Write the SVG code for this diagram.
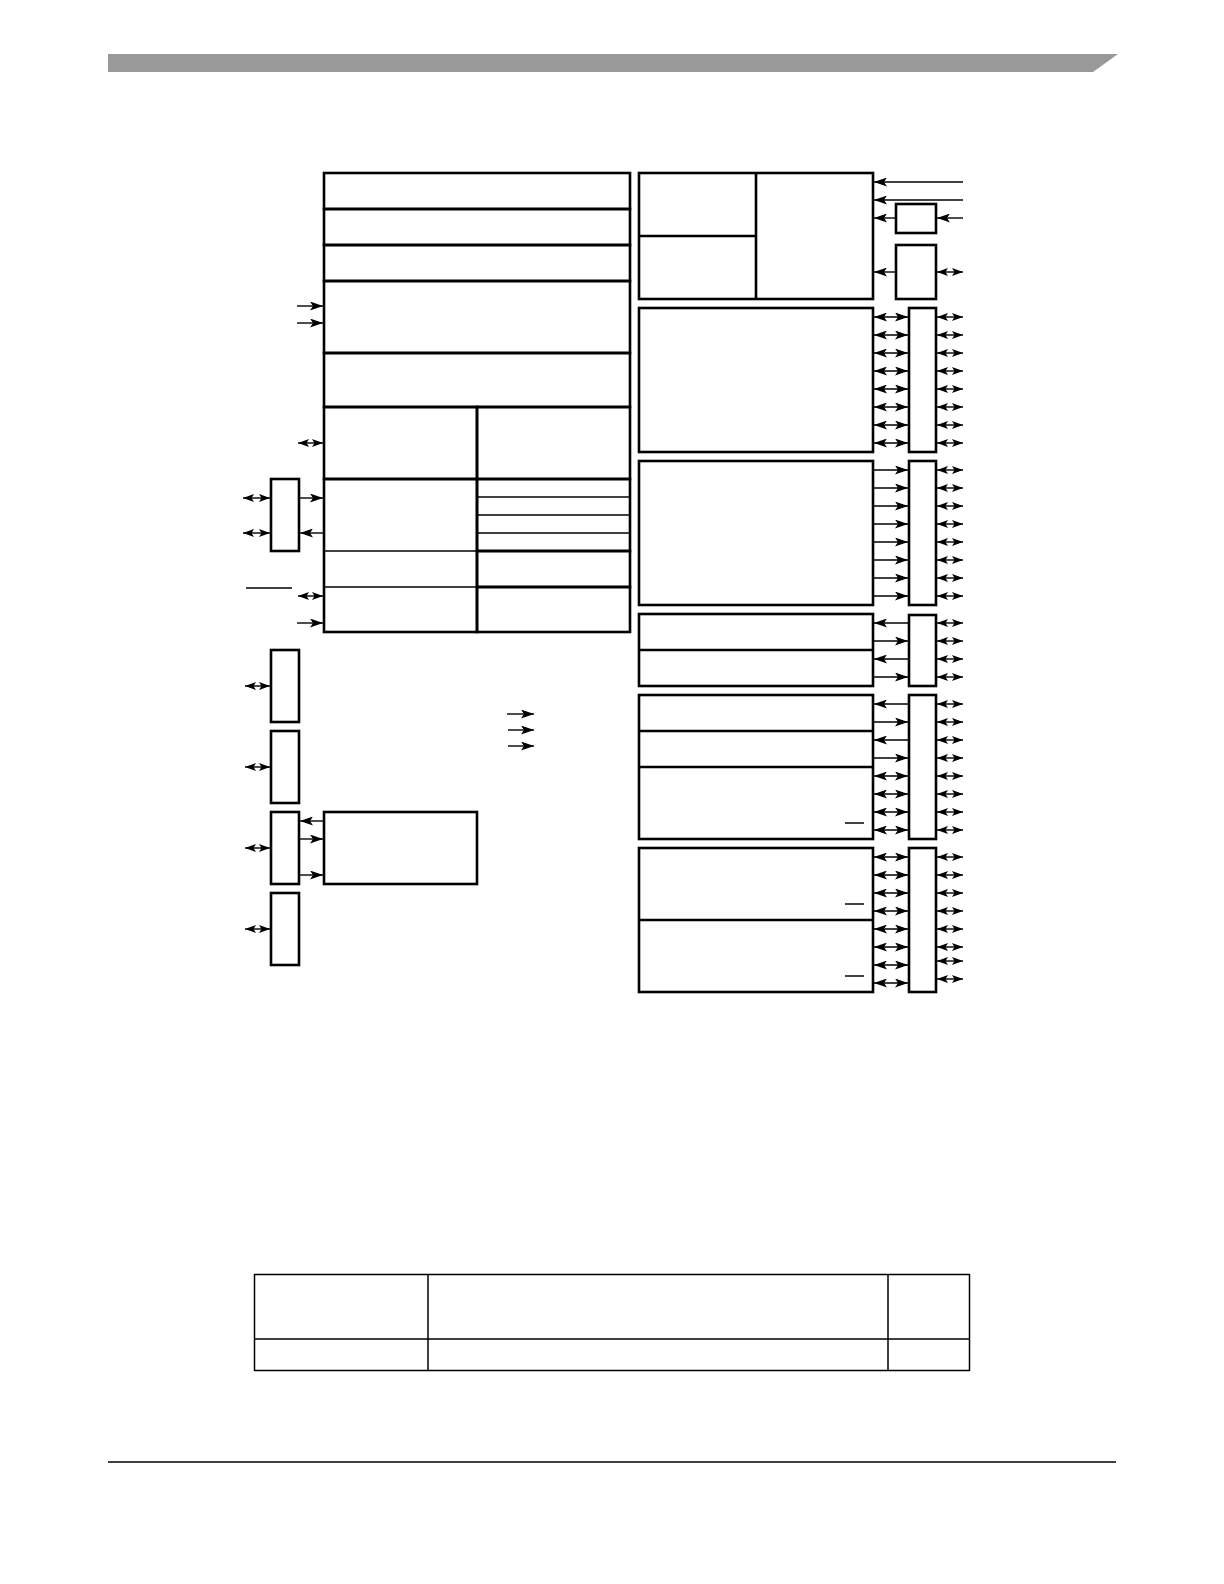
<svg xmlns="http://www.w3.org/2000/svg" width="1224" height="1584" viewBox="0 0 1224 1584">
<style>
.k{fill:none;stroke:#000;stroke-width:2.6}
.t{fill:none;stroke:#000;stroke-width:1.5}
.c line{stroke:#000;stroke-width:1.4}
.r{marker-end:url(#a)}
.b{marker-start:url(#a);marker-end:url(#a)}
.bs{marker-start:url(#s);marker-end:url(#s)}
</style>
<defs>
<marker id="a" viewBox="0 0 13 9" refX="13" refY="4.5" markerWidth="13" markerHeight="9" markerUnits="userSpaceOnUse" orient="auto-start-reverse"><path d="M0,0 L13,4.5 L0,9 L3,4.5 z" fill="#000"/></marker>
<marker id="s" viewBox="0 0 11 8" refX="11" refY="4" markerWidth="11" markerHeight="8" markerUnits="userSpaceOnUse" orient="auto-start-reverse"><path d="M0,0 L11,4 L0,8 L2.5,4 z" fill="#000"/></marker>
</defs>
<rect width="1224" height="1584" fill="#fff"/>
<g id="header-bar"><polygon points="108,54 1118,54 1093,72 108,72" fill="#999"/></g>
<g id="footer-rule"><line x1="108" y1="1462" x2="1116" y2="1462" stroke="#000" stroke-width="1.5"/></g>

<g id="main-block">
<g id="m1"><rect class="k" x="324" y="173" width="306" height="36"/></g>
<g id="m2"><rect class="k" x="324" y="209" width="306" height="36"/></g>
<g id="m3"><rect class="k" x="324" y="245" width="306" height="36"/></g>
<g id="m4"><rect class="k" x="324" y="281" width="306" height="72"/></g>
<g id="m5"><rect class="k" x="324" y="353" width="306" height="54"/></g>
<g id="m6a"><rect class="k" x="324" y="407" width="153" height="72"/></g>
<g id="m6b"><rect class="k" x="477" y="407" width="153" height="72"/></g>
<g id="m7a"><rect class="k" x="324" y="479" width="153" height="153"/><line class="t" x1="324" y1="551" x2="477" y2="551"/><line class="t" x1="324" y1="587" x2="477" y2="587"/></g>
<g id="m7b"><rect class="k" x="477" y="479" width="153" height="72"/><line class="t" x1="477" y1="497" x2="630" y2="497"/><line class="t" x1="477" y1="515" x2="630" y2="515"/><line class="t" x1="477" y1="533" x2="630" y2="533"/></g>
<g id="m8b"><rect class="k" x="477" y="551" width="153" height="36"/></g>
<g id="m9b"><rect class="k" x="477" y="587" width="153" height="45"/></g>
</g>

<g id="lbox1"><rect class="k" x="271" y="479" width="28" height="72"/></g>
<g id="lbox2"><rect class="k" x="271" y="650" width="28" height="72"/></g>
<g id="lbox3"><rect class="k" x="271" y="731" width="28" height="72"/></g>
<g id="lbox4"><rect class="k" x="271" y="812" width="28" height="72"/></g>
<g id="lbox5"><rect class="k" x="271" y="893" width="28" height="72"/></g>
<g id="sub-block"><rect class="k" x="324" y="812" width="153" height="72"/></g>

<g id="blockA"><rect class="k" x="639" y="173" width="234" height="126"/><line class="k" x1="756" y1="173" x2="756" y2="299"/><line class="k" x1="639" y1="236" x2="756" y2="236"/></g>
<g id="s1"><rect class="k" x="896" y="204" width="40" height="29"/></g>
<g id="s2"><rect class="k" x="896" y="245" width="40" height="54"/></g>
<g id="blockB"><rect class="k" x="639" y="308" width="234" height="144"/></g>
<g id="p1"><rect class="k" x="909" y="308" width="27" height="144"/></g>
<g id="blockC"><rect class="k" x="639" y="461" width="234" height="144"/></g>
<g id="p2"><rect class="k" x="909" y="461" width="27" height="144"/></g>
<g id="blockD"><rect class="k" x="639" y="614" width="234" height="72"/><line class="k" x1="639" y1="650" x2="873" y2="650"/></g>
<g id="p3"><rect class="k" x="909" y="615" width="27" height="71"/></g>
<g id="blockE"><rect class="k" x="639" y="695" width="234" height="144"/><line class="k" x1="639" y1="731" x2="873" y2="731"/><line class="k" x1="639" y1="767" x2="873" y2="767"/><line class="t" x1="845" y1="823" x2="864" y2="823"/></g>
<g id="p4"><rect class="k" x="909" y="695" width="27" height="144"/></g>
<g id="blockF"><rect class="k" x="639" y="848" width="234" height="144"/><line class="k" x1="639" y1="920" x2="873" y2="920"/><line class="t" x1="845" y1="904" x2="864" y2="904"/><line class="t" x1="845" y1="976" x2="864" y2="976"/></g>
<g id="p5"><rect class="k" x="909" y="848" width="27" height="144"/></g>

<g id="table">
<rect class="t" x="254.5" y="1274.5" width="715" height="96"/>
<line class="t" x1="254.5" y1="1339" x2="969.5" y2="1339"/>
<line class="t" x1="428" y1="1274.5" x2="428" y2="1370.5"/>
<line class="t" x1="888" y1="1274.5" x2="888" y2="1370.5"/>
</g>

<g id="connectors" class="c">
<line class="r" x1="297" y1="306" x2="323" y2="306"/>
<line class="r" x1="297" y1="323" x2="323" y2="323"/>
<line class="bs" x1="298" y1="443" x2="323" y2="443"/>
<line class="bs" x1="243" y1="498" x2="270" y2="498"/>
<line class="bs" x1="243" y1="533" x2="270" y2="533"/>
<line class="r" x1="300" y1="498" x2="323" y2="498"/>
<line class="r" x1="323" y1="533" x2="300" y2="533"/>
<line x1="246" y1="588" x2="292" y2="588"/>
<line class="bs" x1="298" y1="596" x2="323" y2="596"/>
<line class="r" x1="297" y1="623" x2="323" y2="623"/>
<line class="bs" x1="245" y1="686" x2="270" y2="686"/>
<line class="bs" x1="245" y1="767" x2="270" y2="767"/>
<line class="bs" x1="245" y1="848" x2="270" y2="848"/>
<line class="bs" x1="245" y1="929" x2="270" y2="929"/>
<line class="r" x1="323" y1="821" x2="300" y2="821"/>
<line class="r" x1="300" y1="839" x2="323" y2="839"/>
<line class="r" x1="300" y1="875" x2="323" y2="875"/>
<line class="r" x1="507" y1="714" x2="534" y2="714"/>
<line class="r" x1="508" y1="730" x2="534" y2="730"/>
<line class="r" x1="508" y1="746" x2="534" y2="746"/>

<line class="r" x1="963" y1="182" x2="874" y2="182"/>
<line class="r" x1="963" y1="200" x2="874" y2="200"/>
<line class="r" x1="896" y1="218" x2="874" y2="218"/>
<line class="r" x1="963" y1="218" x2="937" y2="218"/>
<line class="r" x1="896" y1="272" x2="874" y2="272"/>
<line class="bs" x1="937" y1="272" x2="963" y2="272"/>

<line class="b" x1="874" y1="317" x2="908" y2="317"/>
<line class="b" x1="874" y1="335" x2="908" y2="335"/>
<line class="b" x1="874" y1="353" x2="908" y2="353"/>
<line class="b" x1="874" y1="371" x2="908" y2="371"/>
<line class="b" x1="874" y1="389" x2="908" y2="389"/>
<line class="b" x1="874" y1="407" x2="908" y2="407"/>
<line class="b" x1="874" y1="425" x2="908" y2="425"/>
<line class="b" x1="874" y1="443" x2="908" y2="443"/>
<line class="bs" x1="937" y1="317" x2="963" y2="317"/>
<line class="bs" x1="937" y1="335" x2="963" y2="335"/>
<line class="bs" x1="937" y1="353" x2="963" y2="353"/>
<line class="bs" x1="937" y1="371" x2="963" y2="371"/>
<line class="bs" x1="937" y1="389" x2="963" y2="389"/>
<line class="bs" x1="937" y1="407" x2="963" y2="407"/>
<line class="bs" x1="937" y1="425" x2="963" y2="425"/>
<line class="bs" x1="937" y1="443" x2="963" y2="443"/>

<line class="r" x1="874" y1="470" x2="908" y2="470"/>
<line class="r" x1="874" y1="488" x2="908" y2="488"/>
<line class="r" x1="874" y1="506" x2="908" y2="506"/>
<line class="r" x1="874" y1="524" x2="908" y2="524"/>
<line class="r" x1="874" y1="542" x2="908" y2="542"/>
<line class="r" x1="874" y1="560" x2="908" y2="560"/>
<line class="r" x1="874" y1="578" x2="908" y2="578"/>
<line class="r" x1="874" y1="596" x2="908" y2="596"/>
<line class="bs" x1="937" y1="470" x2="963" y2="470"/>
<line class="bs" x1="937" y1="488" x2="963" y2="488"/>
<line class="bs" x1="937" y1="506" x2="963" y2="506"/>
<line class="bs" x1="937" y1="524" x2="963" y2="524"/>
<line class="bs" x1="937" y1="542" x2="963" y2="542"/>
<line class="bs" x1="937" y1="560" x2="963" y2="560"/>
<line class="bs" x1="937" y1="578" x2="963" y2="578"/>
<line class="bs" x1="937" y1="596" x2="963" y2="596"/>

<line class="r" x1="908" y1="623" x2="874" y2="623"/>
<line class="r" x1="874" y1="641" x2="908" y2="641"/>
<line class="r" x1="908" y1="659" x2="874" y2="659"/>
<line class="r" x1="874" y1="677" x2="908" y2="677"/>
<line class="bs" x1="937" y1="623" x2="963" y2="623"/>
<line class="bs" x1="937" y1="641" x2="963" y2="641"/>
<line class="bs" x1="937" y1="659" x2="963" y2="659"/>
<line class="bs" x1="937" y1="677" x2="963" y2="677"/>

<line class="r" x1="908" y1="704" x2="874" y2="704"/>
<line class="r" x1="874" y1="722" x2="908" y2="722"/>
<line class="r" x1="908" y1="740" x2="874" y2="740"/>
<line class="r" x1="874" y1="758" x2="908" y2="758"/>
<line class="b" x1="874" y1="776" x2="908" y2="776"/>
<line class="b" x1="874" y1="794" x2="908" y2="794"/>
<line class="b" x1="874" y1="812" x2="908" y2="812"/>
<line class="b" x1="874" y1="830" x2="908" y2="830"/>
<line class="bs" x1="937" y1="704" x2="963" y2="704"/>
<line class="bs" x1="937" y1="722" x2="963" y2="722"/>
<line class="bs" x1="937" y1="740" x2="963" y2="740"/>
<line class="bs" x1="937" y1="758" x2="963" y2="758"/>
<line class="bs" x1="937" y1="776" x2="963" y2="776"/>
<line class="bs" x1="937" y1="794" x2="963" y2="794"/>
<line class="bs" x1="937" y1="812" x2="963" y2="812"/>
<line class="bs" x1="937" y1="830" x2="963" y2="830"/>

<line class="b" x1="874" y1="857" x2="908" y2="857"/>
<line class="b" x1="874" y1="875" x2="908" y2="875"/>
<line class="b" x1="874" y1="893" x2="908" y2="893"/>
<line class="b" x1="874" y1="911" x2="908" y2="911"/>
<line class="b" x1="874" y1="929" x2="908" y2="929"/>
<line class="b" x1="874" y1="947" x2="908" y2="947"/>
<line class="b" x1="874" y1="965" x2="908" y2="965"/>
<line class="b" x1="874" y1="983" x2="908" y2="983"/>
<line class="bs" x1="937" y1="857" x2="963" y2="857"/>
<line class="bs" x1="937" y1="875" x2="963" y2="875"/>
<line class="bs" x1="937" y1="893" x2="963" y2="893"/>
<line class="bs" x1="937" y1="911" x2="963" y2="911"/>
<line class="bs" x1="937" y1="929" x2="963" y2="929"/>
<line class="bs" x1="937" y1="947" x2="963" y2="947"/>
<line class="bs" x1="937" y1="961" x2="963" y2="961"/>
<line class="bs" x1="937" y1="979" x2="963" y2="979"/>
</g>
</svg>
